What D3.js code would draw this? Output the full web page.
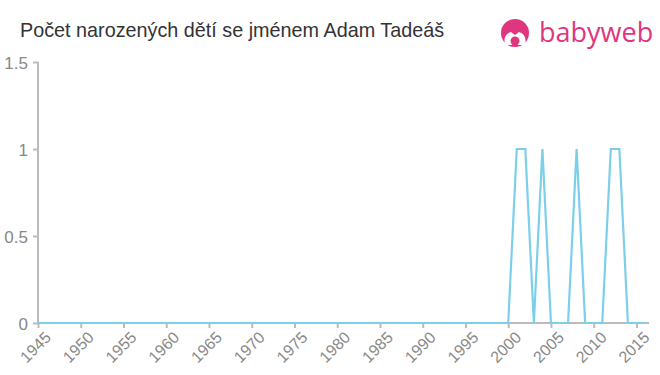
<!DOCTYPE html>
<html>
<head>
<meta charset="utf-8">
<script src="https://cdn.jsdelivr.net/npm/d3@7"></script>
<style>
  body { margin: 0; background: #fff; }
  text { font-family: "Liberation Sans", Arial, sans-serif; }
</style>
</head>
<body>
<div id="chart"></div>
<script>
// Data
const years = d3.range(1945, 2017);
const counts = years.map(y => ({2001: 1, 2002: 1, 2004: 1, 2008: 1, 2012: 1, 2013: 1})[y] || 0);
const yTicks = [0, 0.5, 1, 1.5];
const xTicks = d3.range(1945, 2016, 5);
const title = "Počet narozených dětí se jménem Adam Tadeáš";

const width = 660, height = 375;

const svg = d3.select("#chart")
    .append("svg")
    .attr("width", width)
    .attr("height", height);

const x = d3.scaleLinear().domain([1945, 2016]).range([38, 645]);
const y = d3.scaleLinear().domain([0, 1.5]).range([323, 62]);

// Title
svg.append("text")
    .attr("x", 20)
    .attr("y", 37)
    .style("font-size", "19.8px")
    .attr("fill", "#333")
    .text(title);

// Y axis
const yAxis = svg.append("g")
    .attr("transform", `translate(${x(1945)},0)`)
    .call(d3.axisLeft(y).tickValues(yTicks).tickSize(5).tickFormat(d3.format("")));
yAxis.select(".domain").attr("stroke", "#bbb").attr("stroke-width", 2).attr("d", `M0,${y(1.5)}V${y(0)}`);
yAxis.selectAll(".tick line").attr("stroke", "#bbb").attr("stroke-width", 2);
yAxis.selectAll(".tick text").attr("fill", "#888").style("font-size", "17px").attr("dx", "-2").attr("dy", "0.36em");

// X axis, rotated labels
const xAxis = svg.append("g")
    .attr("transform", `translate(0,${y(0)})`)
    .call(d3.axisBottom(x).tickValues(xTicks).tickSize(5).tickFormat(d3.format("d")));
xAxis.select(".domain").attr("stroke", "#bbb").attr("stroke-width", 2).attr("d", `M${x(1945)},0H649`);
xAxis.selectAll(".tick line").attr("stroke", "#bbb").attr("stroke-width", 2);
xAxis.selectAll(".tick text").remove();
xAxis.selectAll(".tick")
    .append("text")
    .attr("fill", "#888")
    .style("font-size", "16px")
    .attr("text-anchor", "end")
    .attr("transform", "translate(5,7) rotate(-45)")
    .attr("dy", "0.75em")
    .text(d => d);

// Line
const line = d3.line()
    .x((d, i) => x(years[i]))
    .y(d => y(d));
svg.append("path")
    .datum(counts)
    .attr("fill", "none")
    .attr("stroke", "#7ccfea")
    .attr("stroke-width", 2.2)
    .attr("d", line);

// Logo
const logo = svg.append("g").attr("transform", "translate(515,33)");
logo.append("circle").attr("r", 14).attr("fill", "#e0357f");
logo.append("path")
    .attr("d", "M-10,12 C-12,4 -8,0 -4,-1 L0,2 L4,-1 C8,0 12,4 10,12 Z")
    .attr("fill", "#fff");
logo.append("circle").attr("cx", 0).attr("cy", 8).attr("r", 4.5).attr("fill", "#e0357f");
svg.append("text")
    .attr("x", 539)
    .attr("y", 42)
    .style("font-size", "27px")
    .attr("fill", "#e0357f")
    .style("font-family", "'Open Sans', 'Liberation Sans', sans-serif")
    .text("babyweb");
</script>
</body>
</html>
